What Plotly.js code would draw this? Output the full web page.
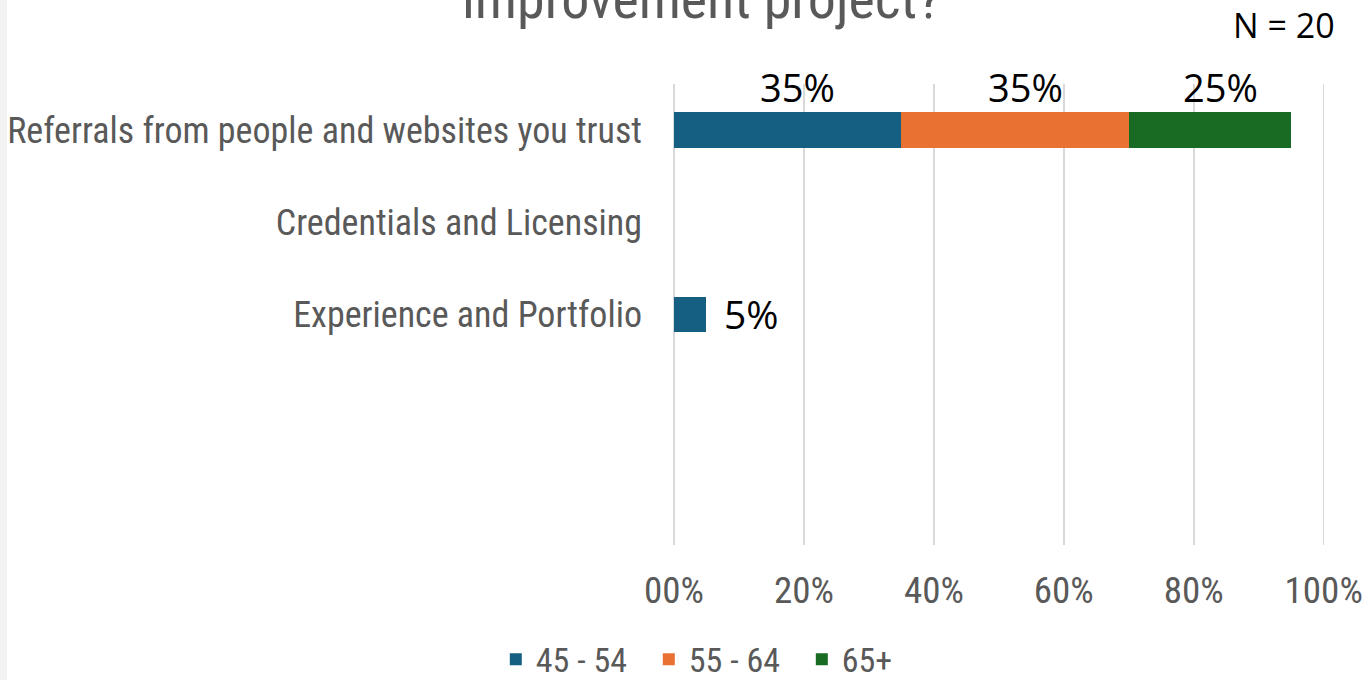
<!DOCTYPE html>
<html>
<head>
<meta charset="utf-8">
<script src="https://cdn.plot.ly/plotly-3.0.1.min.js"></script>
<style>
html,body{margin:0;padding:0;background:#f2f2f2;overflow:hidden;}
#chart{position:absolute;left:7px;top:0;width:1363px;height:680px;background:#fff;}
</style>
</head>
<body>
<div id="chart"></div>
<script>
const categories = ["Referrals from people and websites you trust", "Credentials and Licensing", "Experience and Portfolio"];
const seriesNames = ["45 - 54", "55 - 64", "65+"];
const s4554 = [0.35, 0, 0.05];
const s5564 = [0.35, 0, 0];
const s65 = [0.25, 0, 0];
const seriesColors = ["#156082", "#E97132", "#196B24"];
const xTickVals = [0, 0.2, 0.4, 0.6, 0.8, 1.0];
const xTickText = ["00%", "20%", "40%", "60%", "80%", "100%"];
const titleText = "improvement project?";
const nText = "N = 20";

const narrow = "'Liberation Sans Narrow', 'Arial Narrow', 'Roboto Condensed', sans-serif";
const gray = "#595959";
const seriesVals = [s4554, s5564, s65];

const traces = seriesVals.map((vals, i) => ({
  type: "bar",
  orientation: "h",
  name: seriesNames[i],
  y: categories,
  x: vals,
  marker: {color: seriesColors[i]},
  hoverinfo: "skip"
}));

const annotations = [];
categories.forEach((cat, ci) => {
  let cum = 0;
  const nonzero = seriesVals.filter(v => v[ci] > 0).length;
  seriesVals.forEach((vals, si) => {
    const v = vals[ci];
    if (v > 0) {
      const label = Math.round(v * 100) + "%";
      if (nonzero > 1) {
        annotations.push({x: cum + v / 2, y: cat, xref: "x", yref: "y", text: label,
          showarrow: false, xanchor: "center", yanchor: "middle", xshift: 10, yshift: 43,
          font: {family: "'Open Sans', 'Noto Sans', sans-serif", size: 38, color: "#000"}});
      } else {
        annotations.push({x: cum + v, y: cat, xref: "x", yref: "y", text: label,
          showarrow: false, xanchor: "left", yanchor: "middle", xshift: 16, yshift: 1,
          font: {family: "'Open Sans', 'Noto Sans', sans-serif", size: 39, color: "#000"}});
      }
    }
    cum += v;
  });
});
annotations.push({xref: "paper", yref: "paper", x: 1.0, y: 1.0, xanchor: "right", yanchor: "bottom",
  text: nText, showarrow: false, xshift: 12, yshift: 34,
  font: {family: "'Open Sans', 'Noto Sans', sans-serif", size: 34, color: "#000"}});
// chart title (only its last line is visible, cut at the top edge)
annotations.push({xref: "paper", yref: "paper", x: (701 - 673) / 652, y: 1.0, xanchor: "center", yanchor: "middle",
  text: titleText, showarrow: false, yshift: 85,
  font: {family: narrow, size: 56, color: gray}});

const layout = {
  width: 1363, height: 680,
  margin: {l: 666, r: 45, t: 84, b: 135},
  paper_bgcolor: "#fff", plot_bgcolor: "#fff",
  barmode: "stack",
  bargap: 0.61,
  showlegend: true,
  xaxis: {range: [-0.0015, 1.002], tickvals: xTickVals, ticktext: xTickText, showgrid: true, gridcolor: "#d9d9d9",
    gridwidth: 1.5, zeroline: true, zerolinecolor: "#d9d9d9", zerolinewidth: 1.5, showline: false, ticks: "", ticklabelstandoff: 20,
    tickfont: {family: narrow, size: 37, color: gray}, fixedrange: true},
  yaxis: {type: "category", categoryorder: "array", categoryarray: categories, range: [4.5, -0.5],
    showgrid: false, zeroline: false, showline: false, ticks: "", ticklabelstandoff: 30,
    tickfont: {family: narrow, size: 36, color: gray}, fixedrange: true},
  legend: {orientation: "h", xref: "container", yref: "container", x: 0.527, y: 0.03, xanchor: "center", yanchor: "middle",
    font: {family: narrow, size: 34, color: gray}, itemwidth: 30, traceorder: "normal",
    entrywidth: 108, entrywidthmode: "pixels"},
  annotations: annotations
};

Plotly.newPlot("chart", traces, layout, {displayModeBar: false, staticPlot: true});
</script>
</body>
</html>
